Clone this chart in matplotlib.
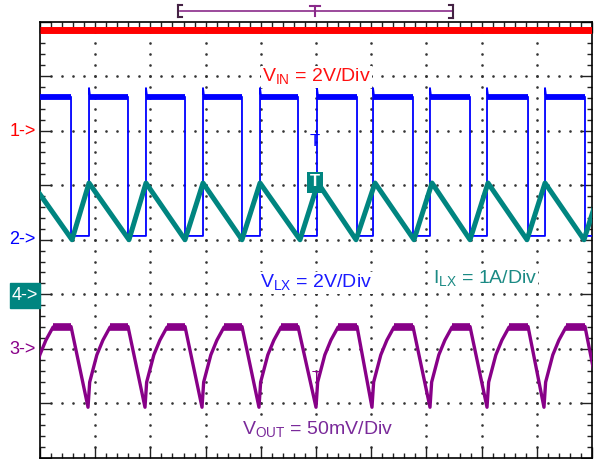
"""Boost converter switching waveforms, scope screenshot style."""

import matplotlib.pyplot as plt
import numpy as np
from matplotlib.lines import Line2D
from matplotlib.patches import Rectangle

W, H = 599, 459

# levels in graticule divisions (0 = bottom line, 8 = top line)
vin_level = 7.84
vlx_high = 6.62
vlx_low = 4.07
vlx_overshoot = 6.78

# VLX switching edges (divisions)
vlx_fall = [0.562, 1.594, 2.627, 3.659, 4.674, 5.743, 6.757, 7.790, 8.841, 9.873]
vlx_rise = [0.888, 1.920, 2.953, 3.986, 5.018, 6.033, 7.065, 8.098, 9.149]

# inductor current, alternating peak / trough
ilx_x = [-0.145, 0.580, 0.888, 1.612, 1.920, 2.627, 2.953, 3.659, 3.986, 4.710,
         5.036, 5.725, 6.069, 6.775, 7.101, 7.790, 8.116, 8.822, 9.149, 9.855, 10.18]
ilx_y = [5.04, 4.00, 5.04, 4.00, 5.04, 4.00, 5.04, 4.00, 5.04, 4.00,
         5.04, 4.00, 5.04, 4.00, 5.04, 4.00, 5.04, 4.00, 5.04, 4.00, 5.04]

# output ripple: troughs, shape of the recovery after each trough, flat top
vout_trough = [-0.163, 0.870, 1.902, 2.935, 3.967, 5.000, 6.014, 7.065, 8.098, 9.130, 10.163]
vout_rise_dx = [0.0, 0.03, 0.16, 0.27, 0.40]
vout_rise_y = [0.93, 1.39, 1.89, 2.16, 2.40]
vout_top = 2.41

RED = "#ff0000"
BLUE = "#0000ff"
TEAL = "#008580"
PURPLE = "#880088"


def px(x, y):
    """pixel position -> figure fraction"""
    return x / W, 1 - y / H


def main() -> None:
    plt.rcParams["font.family"] = ["Liberation Sans", "DejaVu Sans"]
    plt.rcParams["mathtext.fontset"] = "custom"
    plt.rcParams["mathtext.rm"] = "Liberation Sans"

    fig = plt.figure(figsize=(W / 100, H / 100), dpi=100)
    ax = fig.add_axes([40 / W, 1 / H, 552 / W, 436.5 / H])
    ax.set_xlim(0, 10)
    ax.set_ylim(0, 8)

    # graticule dots
    for gy in range(1, 8):
        xs = np.arange(0.2, 10, 0.2)
        ax.plot(xs, np.full_like(xs, gy), ls="none", marker="s", ms=0.8,
                color="#333333", zorder=1)
    for gx in range(1, 10):
        ys = np.arange(0.2, 8, 0.2)
        ax.plot(np.full_like(ys, gx), ys, ls="none", marker="s", ms=0.8,
                color="#333333", zorder=1)

    ax.set_xticks(range(11))
    ax.set_xticks(np.arange(0, 10.01, 0.2), minor=True)
    ax.set_yticks(range(9))
    ax.set_yticks(np.arange(0, 8.01, 0.2), minor=True)
    ax.tick_params(which="both", direction="in", top=True, right=True,
                   labelbottom=False, labelleft=False, width=1.0, color="#222222")
    ax.tick_params(which="major", length=8)
    ax.tick_params(which="minor", length=3.5)
    for s in ax.spines.values():
        s.set_linewidth(1.2)

    # VIN
    ax.plot([0, 10], [vin_level, vin_level], color=RED, lw=5, zorder=4,
            solid_capstyle="butt")

    # VLX
    bx, by = [0], [vlx_high]
    for i, f in enumerate(vlx_fall):
        bx += [f, f]
        by += [vlx_high, vlx_low]
        if i < len(vlx_rise):
            r = vlx_rise[i]
            bx += [r, r, r + 0.02]
            by += [vlx_low, vlx_overshoot, vlx_high]
    bx.append(10)
    by.append(vlx_low)
    ax.plot(bx, by, color=BLUE, lw=1.3, zorder=3)
    starts = [0] + vlx_rise
    for a, b in zip(starts, vlx_fall):
        ax.plot([a, b], [vlx_high, vlx_high], color=BLUE, lw=4.2, zorder=3,
                solid_capstyle="butt")

    # ILX
    ax.plot(ilx_x, ilx_y, color=TEAL, lw=3.6, zorder=5, clip_on=True)

    # VOUT
    vx, vy = [], []
    for t, f in zip(vout_trough[:-1], vlx_fall):
        vx += [t + d for d in vout_rise_dx]
        vy += vout_rise_y
        vx.append(f)
        vy.append(vout_top)
    vx.append(vout_trough[-1])
    vy.append(vout_rise_y[0])
    ax.plot(vx, vy, color=PURPLE, lw=2.4, zorder=4)
    for t, f in zip(vout_trough[:-1], vlx_fall):
        ax.plot([t + vout_rise_dx[-1], f], [vout_top, vout_top], color=PURPLE,
                lw=5.5, zorder=4, solid_capstyle="butt")

    # scale annotations (white backing hides the graticule dots)
    box = dict(boxstyle="square,pad=0.05", fc="white", ec="none")
    ax.text(4.02, 6.89, r"V$_{\mathrm{IN}}$ = 2V/Div", color="#ff1010",
            fontsize=14, ha="left", va="baseline", zorder=6, bbox=box)
    ax.text(3.99, 3.12, r"V$_{\mathrm{LX}}$ = 2V/Div", color="#1a1aff",
            fontsize=14, ha="left", va="baseline", zorder=6, bbox=box)
    ax.text(7.12, 3.19, r"I$_{\mathrm{LX}}$ = 1A/Div", color="#1b8a84",
            fontsize=14, ha="left", va="baseline", zorder=6, bbox=box)
    ax.text(3.66, 0.42, r"V$_{\mathrm{OUT}}$ = 50mV/Div", color="#7a2a9a",
            fontsize=14, ha="left", va="baseline", zorder=6, bbox=box)

    # channel markers
    fig.text(*px(36, 131), "1->", color=RED, fontsize=13, ha="right", va="center")
    fig.text(*px(36, 240), "2->", color=BLUE, fontsize=13, ha="right", va="center")
    fig.text(*px(36, 350), "3->", color=PURPLE, fontsize=13, ha="right", va="center")
    fig.add_artist(Rectangle(px(10, 308), 30 / W, 25 / H, transform=fig.transFigure,
                             color=TEAL, zorder=2))
    fig.text(*px(25, 296), "4->", color="white", fontsize=13, ha="center",
             va="center", zorder=3)

    # trigger markers on traces
    fig.text(*px(315, 142), "T", color=BLUE, fontsize=12, ha="center", va="center")
    fig.text(*px(315, 182), "T", color="white", fontsize=12, fontweight="bold",
             ha="center", va="center", zorder=7,
             bbox=dict(boxstyle="square,pad=0.18", fc=TEAL, ec="none"))
    fig.text(*px(316, 377), "T", color=PURPLE, fontsize=11, ha="center", va="center")

    # trigger position bar on top
    bar = "#8a2a8a"

    def seg(x0, y0, x1, y1, c, lw=1.2):
        fig.add_artist(Line2D([x0 / W, x1 / W], [1 - y0 / H, 1 - y1 / H],
                              transform=fig.transFigure, color=c, lw=lw))

    seg(180, 11, 452, 11, bar)
    seg(178, 5, 178, 17, "#442244", 1.5)
    seg(178, 5, 182, 5, "#442244", 1.5)
    seg(178, 17, 182, 17, "#442244", 1.5)
    seg(453, 5, 453, 18, "#442244", 1.5)
    seg(449, 5, 453, 5, "#442244", 1.5)
    seg(449, 18, 453, 18, "#442244", 1.5)
    seg(310, 6, 320, 6, bar, 1.5)
    seg(315, 6, 315, 16, bar, 1.5)

    fig.savefig("out.png", dpi=100)


if __name__ == "__main__":
    main()
